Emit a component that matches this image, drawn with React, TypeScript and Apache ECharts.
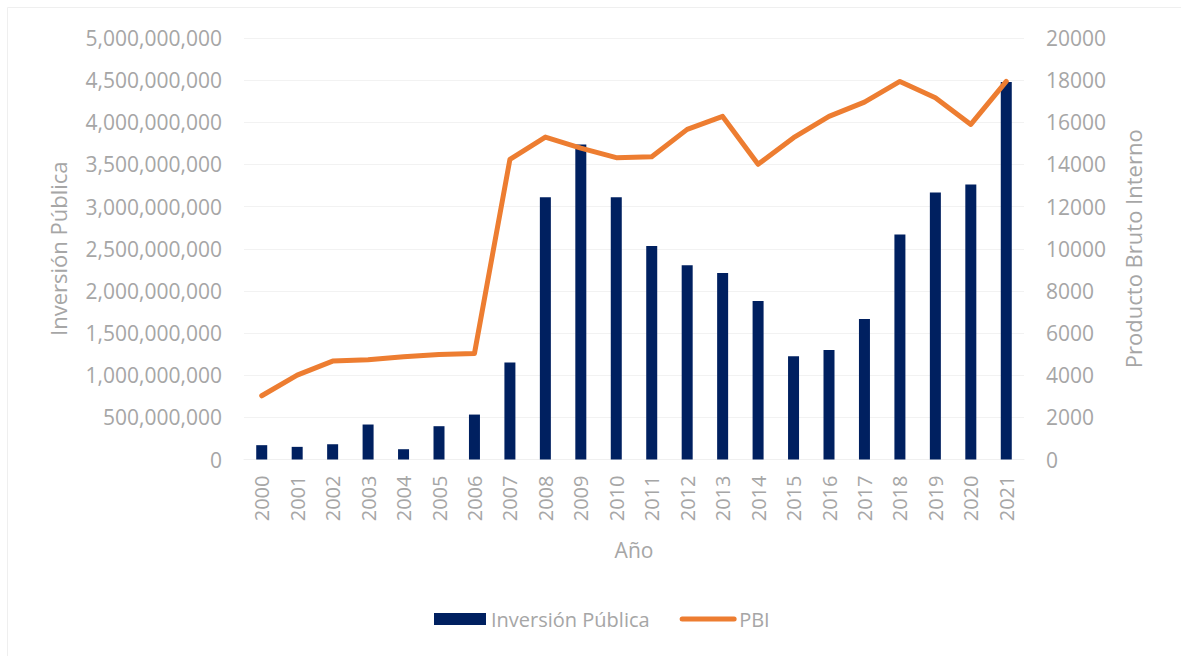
import React, { useEffect, useRef } from "react";
import * as echarts from "echarts";

const years = ["2000","2001","2002","2003","2004","2005","2006","2007","2008","2009","2010","2011","2012","2013","2014","2015","2016","2017","2018","2019","2020","2021"];
const inversion = [170e6,150e6,181e6,415e6,122e6,395e6,533e6,1150e6,3112e6,3736e6,3112e6,2532e6,2303e6,2212e6,1881e6,1224e6,1300e6,1667e6,2670e6,3168e6,3262e6,4479e6];
const pbi = [3024,4005,4668,4730,4872,4985,5033,14242,15300,14777,14322,14370,15664,16280,14005,15270,16280,16957,17938,17164,15900,17938];

const FONT = "Open Sans";
const GREY = "#A6A6A6";

export default function App() {
  const ref = useRef<HTMLDivElement>(null);
  useEffect(() => {
    if (!ref.current) return;
    const chart = echarts.init(ref.current, undefined, { renderer: "svg" });
    const fmt = (v: number) => v.toLocaleString("en-US");
    chart.setOption({
      animation: false,
      backgroundColor: "#FFFFFF",
      textStyle: { fontFamily: FONT },
      graphic: [
        {
          type: "rect",
          shape: { x: 7.5, y: 7.5, width: 1190, height: 670 },
          style: { fill: "none", stroke: "#EFEFEF", lineWidth: 1 },
          silent: true,
          z: -1,
        },
      ],
      grid: { left: 244, right: 157, top: 38, bottom: 196.5, containLabel: false },
      legend: {
        bottom: 22,
        left: 429,
        itemWidth: 52,
        itemHeight: 12,
        itemGap: 30,
        textStyle: { fontFamily: FONT, fontSize: 20, color: GREY, padding: [0, 0, 0, 0] },
        data: [
          { name: "Inversión Pública", icon: "rect" },
          {
            name: "PBI",
            itemStyle: { opacity: 0 },
            lineStyle: { color: "#ED7D31", width: 5, cap: "round" },
          },
        ],
      },
      xAxis: {
        type: "category",
        data: years,
        name: "Año",
        nameLocation: "middle",
        nameGap: 80,
        nameTextStyle: { fontFamily: FONT, fontSize: 21, color: GREY },
        axisLine: { show: true, lineStyle: { color: "#F0F0F0", width: 1 } },
        axisTick: { show: false },
        axisLabel: { rotate: 90, margin: 16, fontFamily: FONT, fontSize: 20, color: GREY },
      },
      yAxis: [
        {
          type: "value",
          min: 0,
          max: 5000000000,
          interval: 500000000,
          name: "Inversión Pública",
          nameLocation: "middle",
          nameRotate: 90,
          nameGap: 175,
          nameTextStyle: { fontFamily: FONT, fontSize: 22, color: GREY },
          axisLine: { show: false },
          axisTick: { show: false },
          axisLabel: { margin: 22, fontFamily: FONT, fontSize: 21, color: GREY, formatter: fmt },
          splitLine: { show: true, lineStyle: { color: "#F2F2F2", width: 1 } },
        },
        {
          type: "value",
          min: 0,
          max: 20000,
          interval: 2000,
          position: "right",
          name: "Producto Bruto Interno",
          nameLocation: "middle",
          nameRotate: 90,
          nameGap: 98,
          nameTextStyle: { fontFamily: FONT, fontSize: 22, color: GREY },
          axisLine: { show: false },
          axisTick: { show: false },
          axisLabel: { margin: 22, fontFamily: FONT, fontSize: 21, color: GREY, formatter: (v: number) => String(v) },
          splitLine: { show: false },
        },
      ],
      series: [
        {
          name: "Inversión Pública",
          type: "bar",
          data: inversion,
          yAxisIndex: 0,
          barWidth: 11,
          itemStyle: { color: "#002060" },
        },
        {
          name: "PBI",
          type: "line",
          data: pbi,
          yAxisIndex: 1,
          showSymbol: false,
          symbol: "none",
          lineStyle: { color: "#ED7D31", width: 5, cap: "round", join: "round" },
          itemStyle: { color: "#ED7D31" },
          z: 3,
        },
      ],
    });
    return () => chart.dispose();
  }, []);
  return (
    <div
      ref={ref}
      style={{ position: "fixed", left: 0, top: 0, width: 1181, height: 656 }}
    />
  );
}
